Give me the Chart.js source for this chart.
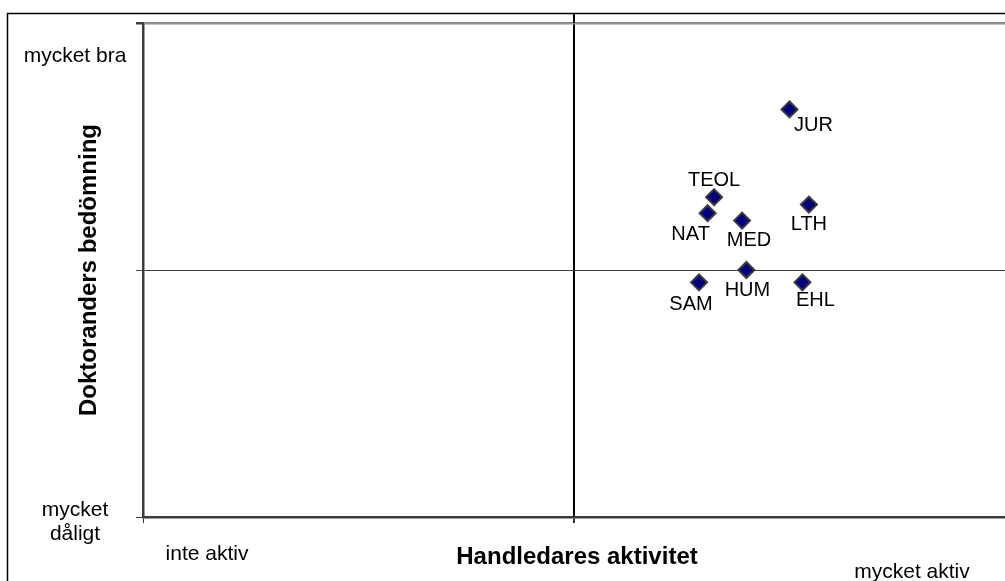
<!DOCTYPE html>
<html>
<head>
<meta charset="utf-8">
<script src="https://cdn.jsdelivr.net/npm/chart.js@4.4.1/dist/chart.umd.min.js"></script>
<style>
  html, body { margin: 0; padding: 0; background: #fff; overflow: hidden; }
  canvas { display: block; }
</style>
</head>
<body>
<canvas id="chart" width="1005" height="581"></canvas>
<script>
// faculties and their positions (x = handledares aktivitet, y = doktoranders bedömning, scale 1-5)
const faculties = ['JUR', 'TEOL', 'NAT', 'MED', 'LTH', 'HUM', 'SAM', 'EHL'];
const handledarAktivitet = [4.00, 3.65, 3.62, 3.78, 4.09, 3.80, 3.58, 4.06];
const doktorandBedomning = [4.30, 3.59, 3.46, 3.40, 3.53, 3.00, 2.90, 2.90];

const xAxisTitle = 'Handledares aktivitet';
const yAxisTitle = 'Doktoranders bedömning';
const xEndLabels = ['inte aktiv', 'mycket aktiv'];
const yEndLabels = [['mycket', 'dåligt'], ['mycket bra']];

// where each label sits relative to its marker (px)
const labelOffsets = [[24, 16], [0, -17], [-17, 21], [7, 20], [0, 20], [1, 20], [-8, 22], [13, 18]];

const FONT = '"Liberation Sans", Arial, sans-serif';

const quadrantDecor = {
  id: 'quadrantDecor',
  beforeDraw(chart) {
    const { ctx, width, height } = chart;
    ctx.save();
    ctx.fillStyle = '#fff';
    ctx.fillRect(0, 0, width, height);
    // outer chart frame (right / bottom edges fall outside the picture)
    ctx.strokeStyle = '#000';
    ctx.lineWidth = 1.5;
    ctx.strokeRect(7.5, 13.5, width + 20, height + 20);
    ctx.restore();
  },
  afterDatasetsDraw(chart) {
    const { ctx, chartArea } = chart;
    const xs = chart.scales.x, ys = chart.scales.y;
    ctx.save();
    // centre divider goes right up to the frame
    const cx = Math.round(xs.getPixelForValue(3));
    ctx.strokeStyle = '#000';
    ctx.lineWidth = 2;
    ctx.beginPath();
    ctx.moveTo(cx, 13);
    ctx.lineTo(cx, chartArea.top);
    ctx.stroke();

    // point labels
    ctx.fillStyle = '#000';
    ctx.font = '20px ' + FONT;
    ctx.textAlign = 'center';
    ctx.textBaseline = 'middle';
    const meta = chart.getDatasetMeta(0);
    meta.data.forEach((pt, i) => {
      const [dx, dy] = labelOffsets[i];
      ctx.fillText(faculties[i], pt.x + dx, pt.y + dy);
    });

    // axis end labels
    ctx.font = '21px ' + FONT;
    const yTop = ys.getPixelForValue(5), yBot = ys.getPixelForValue(1);
    ctx.fillText(yEndLabels[1][0], 75, yTop + 33);
    ctx.fillText(yEndLabels[0][0], 75, yBot - 7);
    ctx.fillText(yEndLabels[0][1], 75, yBot + 17);
    ctx.fillText(xEndLabels[0], xs.getPixelForValue(1) + 64, yBot + 37);
    ctx.fillText(xEndLabels[1], xs.getPixelForValue(5) - 93, yBot + 55);

    // axis titles
    ctx.font = 'bold 24px ' + FONT;
    ctx.fillText(xAxisTitle, cx + 3, yBot + 40);
    ctx.translate(89, (chartArea.top + chartArea.bottom) / 2);
    ctx.rotate(-Math.PI / 2);
    ctx.fillText(yAxisTitle, 0, 0);
    ctx.restore();
  }
};

const points = faculties.map((f, i) => ({ x: handledarAktivitet[i], y: doktorandBedomning[i] }));

new Chart(document.getElementById('chart'), {
  type: 'scatter',
  data: {
    datasets: [{
      label: 'Fakulteter',
      data: points,
      pointStyle: 'rectRot',
      pointRadius: 8,
      pointHoverRadius: 8,
      pointBorderWidth: 2,
      pointBackgroundColor: '#000080',
      pointBorderColor: '#3c3c3c'
    }]
  },
  options: {
    responsive: false,
    animation: false,
    layout: { autoPadding: false, padding: { left: 136, top: 23, right: 0, bottom: 58 } },
    plugins: { legend: { display: false }, tooltip: { enabled: false } },
    scales: {
      x: {
        type: 'linear', min: 1, max: 5,
        ticks: { display: false, stepSize: 2 },
        grid: {
          color: c => (c.tick && c.tick.value === 3 ? '#000' : 'rgba(0,0,0,0)'),
          lineWidth: c => (c.tick && c.tick.value === 3 ? 2 : 1),
          tickColor: c => (c.tick && c.tick.value === 5 ? 'rgba(0,0,0,0)' : '#333'),
          tickLength: 6
        },
        border: { display: true, color: '#3a3a3a', width: 2.5 }
      },
      y: {
        type: 'linear', min: 1, max: 5,
        ticks: { display: false, stepSize: 2 },
        grid: {
          color: c => {
            if (!c.tick) return 'rgba(0,0,0,0)';
            if (c.tick.value === 5) return '#8e8e8e';
            if (c.tick.value === 3) return '#404040';
            return 'rgba(0,0,0,0)';
          },
          lineWidth: c => (c.tick && c.tick.value === 5 ? 2.5 : 1),
          tickColor: '#404040',
          tickLength: 7
        },
        border: { display: true, color: '#3a3a3a', width: 2.5 }
      }
    }
  },
  plugins: [quadrantDecor]
});
</script>
</body>
</html>
